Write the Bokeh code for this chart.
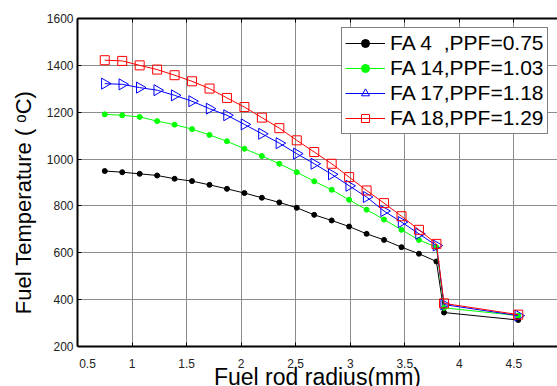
import math
from bokeh.plotting import figure
from bokeh.models import LinearAxis, FixedTicker, Range1d, Legend, LegendItem, ColumnDataSource, BoxAnnotation
from bokeh.embed import file_html
from bokeh.resources import INLINE

radius = [0.75, 0.91, 1.07, 1.23, 1.39, 1.55, 1.71, 1.87, 2.03, 2.19, 2.35,
          2.51, 2.67, 2.83, 2.99, 3.15, 3.31, 3.47, 3.63, 3.79, 3.86, 4.54]
fa4 = [949, 944, 937, 930, 916, 906, 890, 873, 855, 835, 815,
       792, 762, 738, 712, 681, 655, 624, 596, 563, 345, 313]
fa14 = [1191, 1187, 1180, 1162, 1147, 1128, 1103, 1076, 1044, 1013, 980,
        944, 905, 869, 826, 784, 742, 698, 655, 624, 365, 332]
fa17 = [1322, 1319, 1305, 1294, 1272, 1247, 1215, 1187, 1148, 1108, 1068,
        1023, 980, 935, 886, 838, 778, 731, 681, 631, 379, 332]
fa18 = [1422, 1419, 1400, 1382, 1358, 1332, 1301, 1261, 1222, 1177, 1132,
        1080, 1030, 980, 923, 866, 812, 756, 698, 638, 384, 336]
labels = ["FA 4  ,PPF=0.75", "FA 14,PPF=1.03", "FA 17,PPF=1.18", "FA 18,PPF=1.29"]
x_ticks = [0.5, 1, 1.5, 2, 2.5, 3, 3.5, 4, 4.5, 5]
y_ticks = [200, 400, 600, 800, 1000, 1200, 1400, 1600]
x_title = "Fuel rod radius(mm)"
y_title = "Fuel Temperature ( \u1d52C)"
Y_MIN, Y_MAX = 200, 1600

FONT = "Liberation Sans"

p = figure(width=557, height=386, output_backend="svg", toolbar_location=None,
           x_range=Range1d(0.5, 4.9), y_range=Range1d(29.3, Y_MAX),
           min_border_left=77, min_border_top=18, min_border_right=0, min_border_bottom=0)
p.outline_line_color = None
p.background_fill_color = "white"

for ax in (p.xaxis[0], p.yaxis[0]):
    ax.major_tick_in = 4
    ax.major_tick_out = 0
    ax.minor_tick_line_color = None
    ax.axis_line_width = 2
    ax.major_label_text_font = FONT
    ax.major_label_text_font_size = "12px"
    ax.major_label_text_color = "#222222"
    ax.axis_label_text_font = FONT
    ax.axis_label_text_font_style = "normal"
    ax.axis_label_text_font_size = "23px"
    ax.axis_label_text_color = "black"

p.yaxis.axis_label_text_font_size = "22px"
p.xaxis.ticker = FixedTicker(ticks=x_ticks)
p.yaxis.ticker = FixedTicker(ticks=y_ticks)
p.yaxis.bounds = (Y_MIN, Y_MAX)
p.xaxis.fixed_location = Y_MIN
p.xaxis.major_label_overrides = {0.5: "\u00a0" * 6 + "0.5"}
p.xaxis.axis_label = x_title
p.yaxis.axis_label = y_title
p.xaxis.major_label_standoff = 10
p.xaxis.axis_label_standoff = -10
p.xaxis.axis_label_text_line_height = 0.6
p.yaxis.major_label_standoff = 4
p.yaxis.axis_label_standoff = 8

top = LinearAxis(ticker=FixedTicker(ticks=x_ticks), major_tick_in=4, major_tick_out=0,
                 minor_tick_line_color=None, axis_line_width=2,
                 major_label_text_font_size="1px", major_label_text_alpha=0,
                 major_label_standoff=0)
p.add_layout(top, "above")

for g in (p.xgrid[0], p.ygrid[0]):
    g.grid_line_color = "#8c8c8c"
    g.grid_line_width = 1
p.xgrid.ticker = FixedTicker(ticks=x_ticks)
p.ygrid.ticker = FixedTicker(ticks=y_ticks)

cover = BoxAnnotation(top=Y_MIN, fill_color="white", fill_alpha=1, line_color=None, level="underlay")
p.add_layout(cover)

items = []
l1 = p.line(radius, fa4, line_color="black", line_width=1)
m1 = p.scatter(radius, fa4, marker="circle", size=5, fill_color="black", line_color="black")
items.append(LegendItem(label=labels[0], renderers=[l1, m1]))

l2 = p.line(radius, fa14, line_color="#00ff00", line_width=1)
m2 = p.scatter(radius, fa14, marker="circle", size=5, fill_color="#00ff00", line_color="#00ff00")
items.append(LegendItem(label=labels[1], renderers=[l2, m2]))

src17 = ColumnDataSource(dict(x=radius, y=fa17, ang=[-math.pi / 2] * len(radius)))
l3 = p.line(radius, fa17, line_color="#0000ff", line_width=1)
m3 = p.scatter("x", "y", source=src17, marker="triangle", size=11, angle="ang",
               fill_color=None, line_color="#0000ff", line_width=1)
items.append(LegendItem(label=labels[2], renderers=[l3, m3]))

l4 = p.line(radius, fa18, line_color="#ff0000", line_width=1)
m4 = p.scatter(radius, fa18, marker="square", size=9, fill_color=None,
               line_color="#ff0000", line_width=1)
items.append(LegendItem(label=labels[3], renderers=[l4, m4]))

legend = Legend(items=items, location=(264, 252))
legend.label_text_font = FONT
legend.label_text_font_size = "21px"
legend.label_text_color = "black"
legend.label_standoff = 5
legend.glyph_width = 40
legend.glyph_height = 20
legend.label_height = 20
legend.padding = 3
legend.spacing = 1
legend.border_line_color = "black"
legend.border_line_width = 1.5
legend.background_fill_color = "white"
legend.background_fill_alpha = 1
p.add_layout(legend, "center")

open("out.html", "w").write(file_html(p, INLINE))
